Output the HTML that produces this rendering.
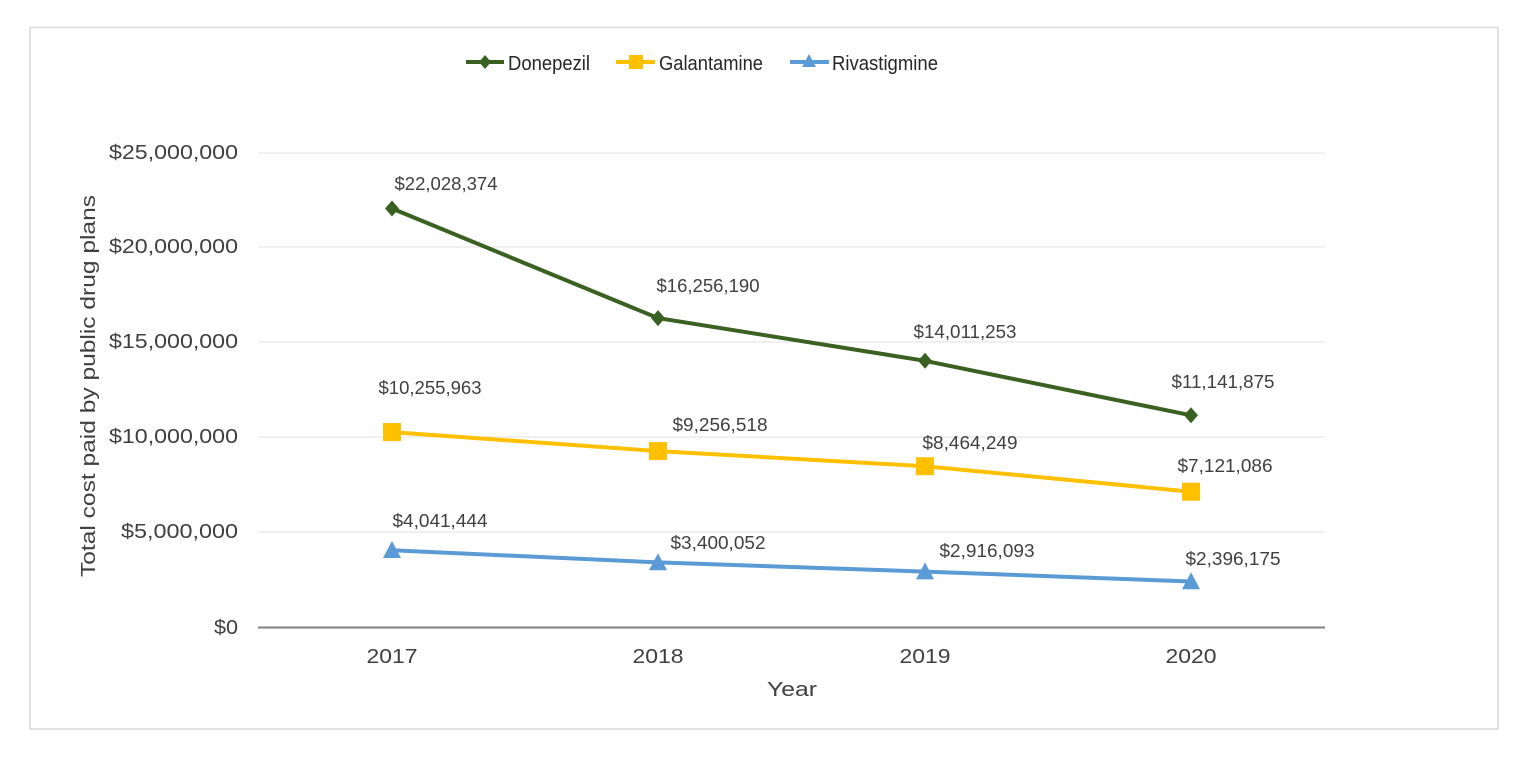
<!DOCTYPE html>
<html><head><meta charset="utf-8"><style>
html,body{margin:0;padding:0;background:#fff;}
svg{display:block;font-family:"Liberation Sans",Arial,sans-serif;}
</style></head><body>
<svg width="1530" height="768" viewBox="0 0 1530 768" xmlns="http://www.w3.org/2000/svg">
<rect x="30" y="27.5" width="1468" height="701.5" fill="#fff" stroke="#d9d9d9" stroke-width="1.5"/>
<g stroke="#e0e0e0" stroke-width="1">
<line x1="258" y1="153" x2="1325" y2="153"/>
<line x1="258" y1="247" x2="1325" y2="247"/>
<line x1="258" y1="342" x2="1325" y2="342"/>
<line x1="258" y1="437" x2="1325" y2="437"/>
<line x1="258" y1="532" x2="1325" y2="532"/>
</g>
<line x1="258" y1="627.5" x2="1325" y2="627.5" stroke="#808080" stroke-width="2"/>
<g font-size="20" fill="#404040" text-anchor="end" lengthAdjust="spacingAndGlyphs">
<text x="238" y="159" textLength="129" lengthAdjust="spacingAndGlyphs">$25,000,000</text>
<text x="238" y="253" textLength="129" lengthAdjust="spacingAndGlyphs">$20,000,000</text>
<text x="238" y="348" textLength="129" lengthAdjust="spacingAndGlyphs">$15,000,000</text>
<text x="238" y="443" textLength="129" lengthAdjust="spacingAndGlyphs">$10,000,000</text>
<text x="238" y="538" textLength="117" lengthAdjust="spacingAndGlyphs">$5,000,000</text>
<text x="238" y="634" textLength="24" lengthAdjust="spacingAndGlyphs">$0</text>
</g>
<g font-size="20" fill="#404040" text-anchor="middle">
<text x="392" y="663" textLength="51" lengthAdjust="spacingAndGlyphs">2017</text>
<text x="658" y="663" textLength="51" lengthAdjust="spacingAndGlyphs">2018</text>
<text x="925" y="663" textLength="51" lengthAdjust="spacingAndGlyphs">2019</text>
<text x="1191" y="663" textLength="51" lengthAdjust="spacingAndGlyphs">2020</text>
<text x="792" y="696" textLength="50" lengthAdjust="spacingAndGlyphs">Year</text>
</g>
<text transform="translate(95,386) rotate(-90)" font-size="20" fill="#404040" text-anchor="middle" textLength="382" lengthAdjust="spacingAndGlyphs">Total cost paid by public drug plans</text>
<!-- Donepezil -->
<polyline points="392,208.5 658,318.1 925,360.8 1191,415.3" fill="none" stroke="#3a6122" stroke-width="4"/>
<g fill="#3a6122">
<polygon points="392,200.5 399,208.5 392,216.5 385,208.5"/>
<polygon points="658,310.1 665,318.1 658,326.1 651,318.1"/>
<polygon points="925,352.8 932,360.8 925,368.8 918,360.8"/>
<polygon points="1191,407.3 1198,415.3 1191,423.3 1184,415.3"/>
</g>
<!-- Galantamine -->
<polyline points="392,432.1 658,451.1 925,466.2 1191,491.7" fill="none" stroke="#ffc000" stroke-width="4"/>
<g fill="#ffc000">
<rect x="383" y="423.1" width="18" height="18"/>
<rect x="649" y="442.1" width="18" height="18"/>
<rect x="916" y="457.2" width="18" height="18"/>
<rect x="1182" y="482.7" width="18" height="18"/>
</g>
<!-- Rivastigmine -->
<polyline points="392,550.2 658,562.4 925,571.6 1191,581.5" fill="none" stroke="#5b9bd5" stroke-width="4"/>
<g fill="#5b9bd5">
<polygon points="392,541 401,558 383,558"/>
<polygon points="658,553.2 667,570.2 649,570.2"/>
<polygon points="925,562.4 934,579.4 916,579.4"/>
<polygon points="1191,572.3 1200,589.3 1182,589.3"/>
</g>
<g font-size="18" fill="#404040" text-anchor="middle">
<text x="446" y="190" textLength="103" lengthAdjust="spacingAndGlyphs">$22,028,374</text>
<text x="708" y="292" textLength="103" lengthAdjust="spacingAndGlyphs">$16,256,190</text>
<text x="965" y="338" textLength="103" lengthAdjust="spacingAndGlyphs">$14,011,253</text>
<text x="1223" y="388" textLength="103" lengthAdjust="spacingAndGlyphs">$11,141,875</text>
<text x="430" y="394" textLength="103" lengthAdjust="spacingAndGlyphs">$10,255,963</text>
<text x="720" y="431" textLength="95" lengthAdjust="spacingAndGlyphs">$9,256,518</text>
<text x="970" y="449" textLength="95" lengthAdjust="spacingAndGlyphs">$8,464,249</text>
<text x="1225" y="472" textLength="95" lengthAdjust="spacingAndGlyphs">$7,121,086</text>
<text x="440" y="527" textLength="95" lengthAdjust="spacingAndGlyphs">$4,041,444</text>
<text x="718" y="549" textLength="95" lengthAdjust="spacingAndGlyphs">$3,400,052</text>
<text x="987" y="557" textLength="95" lengthAdjust="spacingAndGlyphs">$2,916,093</text>
<text x="1233" y="565" textLength="95" lengthAdjust="spacingAndGlyphs">$2,396,175</text>
</g>
<!-- legend -->
<g font-size="20" fill="#262626">
<line x1="466" y1="62" x2="504" y2="62" stroke="#3a6122" stroke-width="4"/>
<polygon points="485,55 491,62 485,69 479,62" fill="#3a6122"/>
<text x="508" y="70" textLength="82" lengthAdjust="spacingAndGlyphs">Donepezil</text>
<line x1="616" y1="62" x2="655" y2="62" stroke="#ffc000" stroke-width="4"/>
<rect x="629" y="55" width="14" height="14" fill="#ffc000"/>
<text x="659" y="70" textLength="104" lengthAdjust="spacingAndGlyphs">Galantamine</text>
<line x1="790" y1="62" x2="829" y2="62" stroke="#5b9bd5" stroke-width="4"/>
<polygon points="809,54 816,67 802,67" fill="#5b9bd5"/>
<text x="832" y="70" textLength="106" lengthAdjust="spacingAndGlyphs">Rivastigmine</text>
</g>
</svg>
</body></html>
